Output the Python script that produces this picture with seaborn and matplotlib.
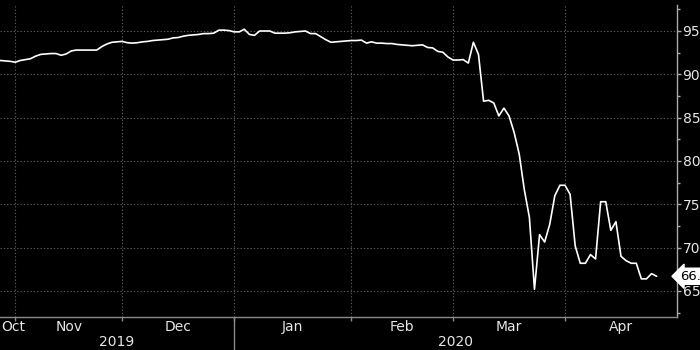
import numpy as np
import pandas as pd
import matplotlib
matplotlib.use("Agg")
import matplotlib.pyplot as plt
import matplotlib.transforms as mtransforms
from matplotlib.lines import Line2D
import seaborn as sns

# ---- data (business days, 2019-10-29 .. 2020-04-27) ----
start_date = "2019-10-29"
end_date = "2020-04-27"
values = [
    91.6, 91.55, 91.5, 91.4, 91.6, 91.7, 91.8, 92.1, 92.3, 92.35,
    92.4, 92.4, 92.2, 92.35, 92.7, 92.8, 92.8, 92.8, 92.8, 92.8,
    93.2, 93.5, 93.7, 93.75, 93.8, 93.65, 93.6, 93.65, 93.75, 93.8,
    93.9, 93.95, 94.0, 94.05, 94.2, 94.25, 94.4, 94.5, 94.55, 94.6,
    94.7, 94.7, 94.75, 95.1, 95.1, 95.05, 94.9, 94.9, 95.2, 94.6,
    94.5, 95.0, 95.0, 95.0, 94.75, 94.75, 94.75, 94.8, 94.9, 94.95,
    95.0, 94.7, 94.7, 94.35, 94.0, 93.7, 93.75, 93.8, 93.85, 93.9,
    93.9, 93.95, 93.6, 93.75, 93.6, 93.6, 93.55, 93.55, 93.45, 93.4,
    93.35, 93.3, 93.35, 93.4, 93.1, 93.05, 92.65, 92.55, 92.0, 91.65,
    91.65, 91.7, 91.3, 93.7, 92.3, 86.9, 87.0, 86.7, 85.2, 86.1,
    85.2, 83.3, 80.8, 76.7, 73.5, 65.2, 71.5, 70.65, 72.7, 76.0,
    77.2, 77.2, 76.15, 70.2, 68.2, 68.2, 69.2, 68.7, 75.3, 75.3,
    72.0, 73.0, 69.0, 68.5, 68.2, 68.2, 66.4, 66.4, 67.0, 66.7,
]
month_labels = ["Oct", "Nov", "Dec", "Jan", "Feb", "Mar", "Apr"]
year_labels = ["2019", "2020"]
y_ticks = [65, 70, 75, 80, 85, 90, 95]
last_label = "66.7"

dates = pd.bdate_range(start_date, end_date)
df = pd.DataFrame({"date": dates, "value": values})
df["idx"] = np.arange(len(df))

# month boundaries (index of first business day of each month)
month_key = df["date"].dt.to_period("M")
first_idx = df.groupby(month_key)["idx"].min().tolist()   # Oct, Nov, ... Apr
x_end = 133.0
boundaries = first_idx[1:]  # Nov..Apr starts
edges = [0] + boundaries + [x_end]
month_centers = [(edges[i] + edges[i + 1]) / 2 for i in range(len(edges) - 1)]
month_centers[0] = 2.6
year_split = first_idx[3]  # Jan 2020
year_centers = [year_split / 2, (year_split + x_end) / 2]

# ---- figure ----
sns.set_theme(style="dark")
plt.rcParams["font.family"] = ["DejaVu Sans"]
fig = plt.figure(figsize=(7, 3.5), dpi=100, facecolor="black")
ax = fig.add_axes([0.0, 1 - 317 / 350, 677 / 700, 312 / 350])
ax.set_facecolor("black")

sns.lineplot(data=df, x="idx", y="value", ax=ax, color="white", linewidth=1.2)

ax.set_xlim(0, x_end)
ax.set_ylim(62, 98)
ax.set_xlabel("")
ax.set_ylabel("")

grid_c = "#585858"
for b in boundaries:
    ax.axvline(b, color=grid_c, linestyle=(0, (1.2, 1.8)), linewidth=0.8, zorder=0)
for t in y_ticks:
    ax.axhline(t, color=grid_c, linestyle=(0, (1.2, 1.8)), linewidth=0.8, zorder=0)

# spines
for s in ["top", "left"]:
    ax.spines[s].set_visible(False)
ax.spines["right"].set_color("#aaaaaa")
ax.spines["right"].set_linewidth(1.0)
ax.spines["bottom"].set_color("#8a8a8a")
ax.spines["bottom"].set_linewidth(1.0)

# y axis on the right
ax.yaxis.tick_right()
ax.set_yticks(y_ticks)
ax.set_yticklabels([str(t) for t in y_ticks])
ax.set_yticks(np.arange(62.5, 98, 2.5), minor=True)
ax.tick_params(axis="y", which="major", direction="out", length=3, width=1,
               color="#aaaaaa", labelcolor="#e6e6e6", labelsize=10, pad=1,
               right=True, left=False)
ax.tick_params(axis="y", which="minor", direction="out", length=2.5, width=1,
               color="#aaaaaa", right=True, left=False)

# x axis ticks at month boundaries, labels placed manually
ax.set_xticks(boundaries)
ax.set_xticklabels([])
ax.tick_params(axis="x", which="major", direction="out", length=3, width=1,
               color="#8a8a8a", bottom=True)

trans = mtransforms.blended_transform_factory(ax.transData, ax.transAxes)
for lab, cx in zip(month_labels, month_centers):
    ax.text(cx, -0.033, lab, transform=trans, ha="center", va="center",
            color="#e6e6e6", fontsize=10, clip_on=False)
for lab, cx in zip(year_labels, year_centers):
    ax.text(cx, -0.080, lab, transform=trans, ha="center", va="center",
            color="#e6e6e6", fontsize=10, clip_on=False)
ax.add_line(Line2D([year_split, year_split], [0, -0.12], transform=trans,
                   color="#8a8a8a", linewidth=1.0, clip_on=False))

# last value marker
ax.annotate(last_label, xy=(1.0, values[-1]), xycoords=("axes fraction", "data"),
            xytext=(2.5, 0), textcoords="offset points", ha="left", va="center",
            fontsize=9.5, color="black", annotation_clip=False,
            bbox=dict(boxstyle="larrow,pad=0.12", fc="white", ec="white"))

fig.savefig("out.png", dpi=100, facecolor="black")
